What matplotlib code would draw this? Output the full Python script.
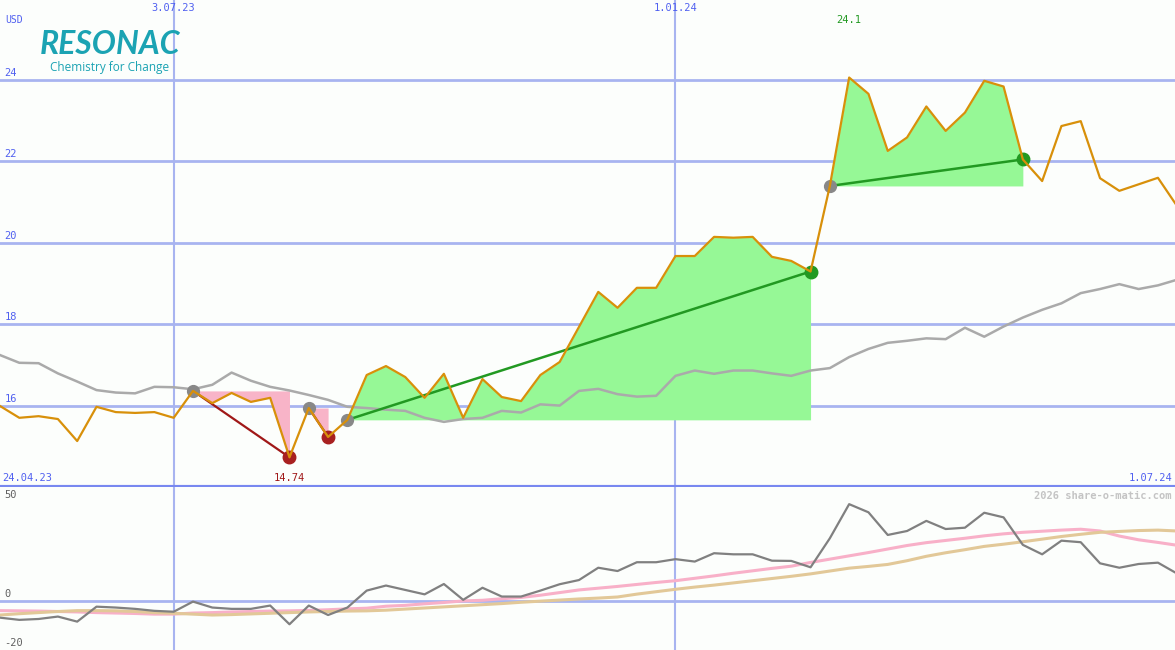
import numpy as np
import pandas as pd
import matplotlib
matplotlib.use('Agg')
import matplotlib.pyplot as plt
import matplotlib.transforms as mtransforms

# 주간 데이터 (월요일 기준)
weeks = pd.date_range('2023-05-01', periods=62, freq='7D')

price = [16.00, 15.71, 15.75, 15.68, 15.14, 15.98, 15.85, 15.83, 15.85, 15.71,
         16.37, 16.07, 16.32, 16.10, 16.20, 14.74, 15.95, 15.24, 15.66, 16.76,
         16.98, 16.71, 16.20, 16.79, 15.71, 16.66, 16.22, 16.12, 16.76, 17.08,
         17.94, 18.80, 18.41, 18.90, 18.90, 19.68, 19.68, 20.15, 20.13, 20.15,
         19.66, 19.56, 19.30, 21.40, 24.06, 23.66, 22.26, 22.59, 23.35, 22.75,
         23.20, 23.98, 23.84, 22.05, 21.52, 22.87, 22.99, 21.59, 21.28, 21.44,
         21.60, 20.90]

avg = [17.25, 17.06, 17.05, 16.80, 16.60, 16.39, 16.33, 16.31, 16.47, 16.46,
       16.41, 16.52, 16.82, 16.62, 16.47, 16.38, 16.27, 16.15, 15.98, 15.95,
       15.91, 15.88, 15.71, 15.61, 15.68, 15.71, 15.88, 15.84, 16.04, 16.01,
       16.37, 16.42, 16.29, 16.23, 16.25, 16.74, 16.87, 16.79, 16.87, 16.87,
       16.80, 16.74, 16.87, 16.93, 17.20, 17.40, 17.55, 17.60, 17.66, 17.64,
       17.92, 17.70, 17.95, 18.17, 18.36, 18.52, 18.77, 18.87, 18.99, 18.87,
       18.96, 19.10]

momentum = [-7.6, -8.6, -8.2, -7.1, -9.4, -2.6, -3.0, -3.6, -4.5, -4.9,
            -0.3, -3.0, -3.6, -3.6, -2.1, -10.6, -2.1, -6.4, -3.0, 4.7,
            7.0, 5.0, 3.0, 7.7, 0.5, 6.0, 2.0, 2.0, 4.7, 7.6,
            9.5, 15.1, 13.6, 17.6, 17.6, 19.0, 17.9, 21.7, 21.2, 21.2,
            18.3, 18.2, 15.3, 28.5, 44.0, 40.3, 30.0, 31.8, 36.4, 32.7,
            33.3, 40.1, 38.0, 25.5, 21.2, 27.4, 26.7, 17.1, 15.1, 16.8,
            17.4, 12.4]

sig_fast = [-4.4, -4.5, -4.6, -4.8, -5.0, -5.3, -5.5, -5.7, -6.0, -6.0,
            -5.5, -5.3, -5.0, -4.8, -4.6, -4.5, -4.3, -4.0, -3.6, -3.3,
            -2.4, -2.0, -1.3, -0.7, 0.0, 0.3, 1.0, 1.6, 2.6, 3.8,
            5.0, 5.8, 6.6, 7.5, 8.4, 9.2, 10.3, 11.4, 12.6, 13.7,
            14.8, 15.8, 17.5, 19.0, 20.5, 22.0, 23.6, 25.2, 26.5, 27.5,
            28.5, 29.6, 30.5, 31.2, 31.7, 32.2, 32.6, 31.8, 29.5, 27.8,
            26.6, 25.3]

sig_slow = [-6.4, -5.8, -5.3, -4.8, -4.4, -4.4, -4.5, -4.8, -5.3, -5.6,
            -6.0, -6.4, -6.2, -5.9, -5.6, -5.3, -5.0, -4.8, -4.6, -4.5,
            -4.2, -3.7, -3.2, -2.7, -2.2, -1.7, -1.2, -0.6, -0.1, 0.4,
            0.9, 1.3, 1.8, 3.1, 4.2, 5.3, 6.3, 7.2, 8.2, 9.2,
            10.2, 11.2, 12.3, 13.6, 14.9, 15.7, 16.6, 18.3, 20.3, 21.9,
            23.3, 24.8, 25.8, 26.9, 28.1, 29.3, 30.3, 31.2, 31.6, 32.0,
            32.2, 31.8]

# 신호 구간 (시작, 끝 인덱스)
down_runs = [(10, 15), (16, 17)]
up_runs = [(18, 42), (43, 53)]

price_ticks = [24, 22, 20, 18, 16]
date_lines = ['2023-07-03', '2024-01-01']
date_labels = ['3.07.23', '1.01.24']

bg = '#fcfefc'
grid_c = '#a8b4f0'
blue_txt = '#5060f0'
mono = 'DejaVu Sans Mono'

W, H = 1175, 650
fig = plt.figure(figsize=(W / 100, H / 100), dpi=100, facecolor=bg)
ax = fig.add_axes([0, 163 / H, 1, 487 / H], facecolor=bg)
ax2 = fig.add_axes([0, 0, 1, 163 / H], facecolor=bg)

x0 = weeks[0]
x1 = x0 + pd.Timedelta(days=W / 2.757)
for a in (ax, ax2):
    a.set_xlim(x0, x1)
    a.set_xticks([])
    a.set_yticks([])
    for s in a.spines.values():
        s.set_visible(False)
    for d in date_lines:
        a.axvline(pd.Timestamp(d), color=grid_c, lw=1.5, zorder=1)

ax.set_ylim(14.012, 25.963)
ax2.set_ylim(-22.3, 51.8)

for v in price_ticks:
    ax.axhline(v, color=grid_c, lw=2, zorder=1)
ax2.axhline(0, color=grid_c, lw=2, zorder=1)
ax.axhline(14.012, color='#7888f0', lw=3, zorder=6)

p = np.array(price)
# 하락 구간 (분홍)
for s, e in down_runs:
    lvl = p[s]
    ax.fill_between(weeks[s:e + 1], lvl, p[s:e + 1], where=p[s:e + 1] <= lvl,
                    interpolate=True, color='#f8b4c8', lw=0, zorder=2)
    ax.plot([weeks[s], weeks[e]], [p[s], p[e]], color='#a01818', lw=1.6, zorder=4)
    ax.plot(weeks[s], p[s], 'o', color='#888888', ms=8.5, zorder=5)
    ax.plot(weeks[e], p[e], 'o', color='#a82020', ms=9, zorder=5)

# 상승 구간 (초록)
for s, e in up_runs:
    lvl = p[s]
    ax.fill_between(weeks[s:e + 1], lvl, p[s:e + 1], where=p[s:e + 1] >= lvl,
                    interpolate=True, color='#96f896', lw=0, zorder=2)
    ax.plot([weeks[s], weeks[e]], [p[s], p[e]], color='#229922', lw=1.8, zorder=4)
    ax.plot(weeks[s], p[s], 'o', color='#888888', ms=8.5, zorder=5)
    ax.plot(weeks[e], p[e], 'o', color='#229922', ms=9, zorder=5)

ax.plot(weeks, avg, color='#aaaaaa', lw=1.8, zorder=3)
ax.plot(weeks, price, color='#d8900a', lw=1.6, zorder=6)

ax2.plot(weeks, sig_fast, color='#f8b0c8', lw=2.2, zorder=3)
ax2.plot(weeks, sig_slow, color='#e2c898', lw=2.2, zorder=3)
ax2.plot(weeks, momentum, color='#808080', lw=1.6, zorder=4)

# 라벨
ty = mtransforms.blended_transform_factory(ax.transAxes, ax.transData)
for v in price_ticks:
    ax.text(0.004, v + 0.06, str(v), transform=ty, color=blue_txt,
            fontsize=7.5, family=mono, va='bottom', ha='left')

ty2 = mtransforms.blended_transform_factory(ax2.transAxes, ax2.transData)
ax2.text(0.004, 0.9, '0', transform=ty2, color='#606060', fontsize=7.5,
         family=mono, va='bottom')
ax2.text(0.004, -21.5, '-20', transform=ty2, color='#606060', fontsize=7.5,
         family=mono, va='bottom')
ax2.text(0.004, 0.98, '50', transform=ax2.transAxes, color='#606060',
         fontsize=7.5, family=mono, va='top')

tx = mtransforms.blended_transform_factory(ax.transData, fig.transFigure)
for d, lab in zip(date_lines, date_labels):
    ax.text(pd.Timestamp(d), 1 - 8 / H, lab, transform=tx, color=blue_txt,
            fontsize=7.5, family=mono, ha='center', va='center')

ax.text(weeks[44], 1 - 20 / H, '24.1', transform=tx, color='#229922',
        fontsize=7.5, family=mono, ha='center', va='center')
ax.text(weeks[15], 1 - 478 / H, '14.74', transform=tx, color='#a01818',
        fontsize=7.5, family=mono, ha='center', va='center')

fig.text(2 / W, 1 - 478 / H, '24.04.23', color=blue_txt, fontsize=7.5,
         family=mono, ha='left', va='center')
fig.text(1172 / W, 1 - 478 / H, '1.07.24', color=blue_txt, fontsize=7.5,
         family=mono, ha='right', va='center')
fig.text(5 / W, 1 - 20 / H, 'USD', color=blue_txt, fontsize=7,
         family=mono, ha='left', va='center')
fig.text(1172 / W, 1 - 496 / H, '2026 share-o-matic.com', color='#c4c4c4',
         fontsize=7.5, family=mono, weight='bold', ha='right', va='center')

# 로고
fig.text(110 / W, 1 - 45 / H, 'RESONAC', color='#1ba3b3', fontsize=23,
         family='Lato', weight='bold', style='italic', ha='center', va='center')
fig.text(110 / W, 1 - 68 / H, 'Chemistry for Change', color='#1ba3b3',
         fontsize=8.5, family='Open Sans', ha='center', va='center')

fig.savefig('out.png', dpi=100, facecolor=bg)
